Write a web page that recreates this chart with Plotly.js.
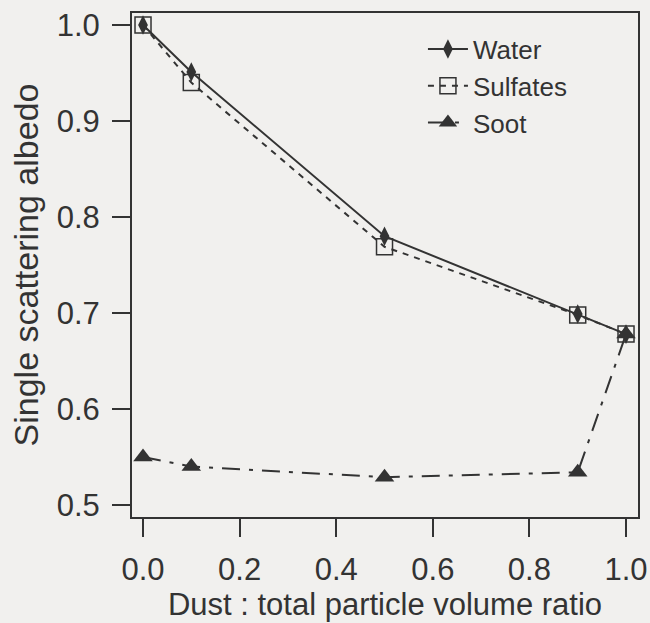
<!DOCTYPE html>
<html>
<head>
<meta charset="utf-8">
<script src="https://cdn.plot.ly/plotly-3.0.1.min.js"></script>
<style>html,body{margin:0;padding:0;background:#f1f0ee;}</style>
</head>
<body>
<div id="chart" style="width:650px;height:623px;"></div>
<script>
const ratio = [0.0, 0.1, 0.5, 0.9, 1.0];
const water = [1.0, 0.951, 0.780, 0.699, 0.678];
const sulfates = [1.0, 0.940, 0.769, 0.698, 0.678];
const soot = [0.550, 0.540, 0.529, 0.534, 0.678];
const xTicks = [0.0, 0.2, 0.4, 0.6, 0.8, 1.0];
const yTicks = [0.5, 0.6, 0.7, 0.8, 0.9, 1.0];

const ink = '#333333';
const traces = [
  {x: ratio, y: water, name: 'Water', mode: 'lines+markers',
   line: {color: ink, width: 2, dash: 'solid'},
   marker: {symbol: 'diamond-tall', size: 14, color: ink}},
  {x: ratio, y: sulfates, name: 'Sulfates', mode: 'lines+markers',
   line: {color: ink, width: 2, dash: '6px,6px'},
   marker: {symbol: 'square-open', size: 16, color: ink, line: {width: 1.5, color: ink}}},
  {x: ratio, y: soot, name: 'Soot', mode: 'lines+markers',
   line: {color: ink, width: 2, dash: '18px,9px,4px,9px'},
   marker: {symbol: 'triangle-up', size: 17, color: ink}}
];

const layout = {
  width: 650, height: 623,
  paper_bgcolor: '#f1f0ee', plot_bgcolor: '#f1f0ee',
  margin: {l: 132, r: 12, t: 13, b: 106},
  font: {family: 'Liberation Sans, Arial, sans-serif', color: ink},
  showlegend: true,
  legend: {x: 0.575, y: 0.975, xanchor: 'left', yanchor: 'top',
           bgcolor: 'rgba(0,0,0,0)', font: {size: 26, color: ink},
           tracegroupgap: 0, itemwidth: 40},
  xaxis: {range: [-0.0228, 1.0248], tickvals: xTicks, ticktext: xTicks.map(v => v.toFixed(1)),
          showgrid: false, zeroline: false, showline: true, mirror: true,
          linecolor: ink, linewidth: 2, ticks: 'outside', ticklen: 18, tickwidth: 2, tickcolor: ink,
          tickfont: {size: 31, color: ink}, ticklabelstandoff: 6,
          title: {text: 'Dust : total particle volume ratio', font: {size: 31, color: ink}, standoff: 2}},
  yaxis: {range: [0.4875, 1.0125], tickvals: yTicks, ticktext: yTicks.map(v => v.toFixed(1)),
          showgrid: false, zeroline: false, showline: true, mirror: true,
          linecolor: ink, linewidth: 2, ticks: 'outside', ticklen: 18, tickwidth: 2, tickcolor: ink,
          tickfont: {size: 31, color: ink}, ticklabelstandoff: 6,
          title: {text: 'Single scattering albedo', font: {size: 34, color: ink}, standoff: 8}}
};

Plotly.newPlot('chart', traces, layout, {displayModeBar: false, staticPlot: true});
</script>
</body>
</html>
